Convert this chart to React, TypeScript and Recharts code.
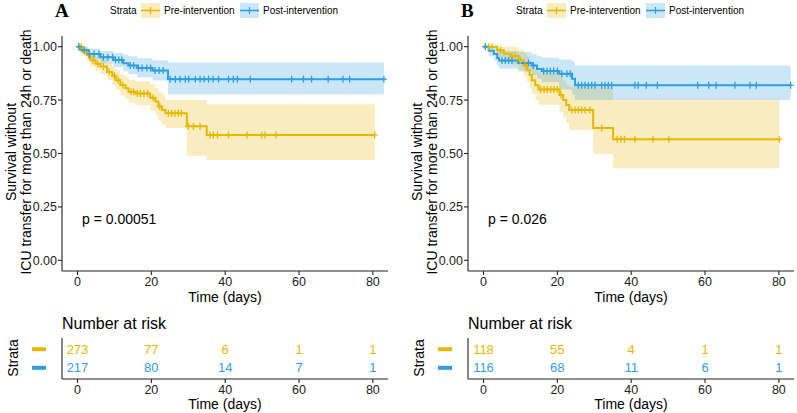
import React from "react"
import { ComposedChart, Area, Line, Scatter, XAxis, YAxis } from "recharts"

const YEL = "#E7B800"
const BLU = "#2E9FDF"
const FONT = '"Liberation Sans", Arial, sans-serif'

// ---- panel A: survival steps (time in days, survival, CI low, CI high)
const preA_t = [0, 1.3, 2.6, 3.5, 4.9, 6.2, 8, 9.4, 10.3, 11.6, 13, 13.8, 15.7, 19.7, 21.1, 21.9, 22.9, 23.8, 29.6, 35, 80.5]
const preA_s = [1, 0.978, 0.96, 0.936, 0.92, 0.907, 0.882, 0.864, 0.843, 0.82, 0.805, 0.789, 0.781, 0.761, 0.743, 0.72, 0.704, 0.688, 0.627, 0.587, 0.587]
const preA_lo = [1, 0.96, 0.937, 0.907, 0.888, 0.872, 0.843, 0.822, 0.798, 0.772, 0.755, 0.737, 0.727, 0.703, 0.682, 0.655, 0.636, 0.619, 0.49, 0.47, 0.47]
const preA_hi = [1, 0.996, 0.983, 0.966, 0.953, 0.943, 0.922, 0.908, 0.89, 0.871, 0.858, 0.845, 0.838, 0.823, 0.808, 0.79, 0.775, 0.75, 0.75, 0.73, 0.73]
const preA_c = [0.3, 1, 2, 3, 4.2, 5.5, 7, 8.6, 10, 11, 12.3, 14.5, 15.2, 16.2, 17, 18, 19, 20.5, 22.3, 24.6, 25.5, 26.4, 27.3, 28.1, 30, 31.4, 33.2, 35.9, 36.8, 37.9, 40.9, 45.9, 49.9, 50.8, 53.8, 80.5]

const postA_t = [0, 0.8, 3, 6.2, 9.7, 12.4, 13.8, 16.2, 20.3, 24.5, 83]
const postA_s = [1, 0.985, 0.966, 0.95, 0.938, 0.922, 0.912, 0.9, 0.888, 0.848, 0.848]
const postA_lo = [1, 0.969, 0.942, 0.921, 0.905, 0.885, 0.872, 0.857, 0.842, 0.777, 0.777]
const postA_hi = [1, 1, 0.99, 0.98, 0.972, 0.962, 0.955, 0.946, 0.937, 0.926, 0.926]
const postA_c = [0.4, 1.8, 3.2, 4.5, 5.8, 7, 8.2, 9.5, 10.3, 11.2, 12, 14.3, 15.2, 16.5, 17.5, 18.8, 19.8, 21, 22.1, 23.2, 25.1, 26.5, 27.8, 29.2, 30.1, 31.9, 33.2, 34.3, 35.5, 36.7, 38.2, 40.9, 42.2, 43.3, 46.8, 58, 61.2, 63.4, 67.9, 71.9, 73.7, 83]

// ---- panel B
const preB_t = [0, 3.7, 5.5, 7.3, 9.5, 10.9, 11.8, 12.5, 13.1, 14, 14.9, 20.6, 21.6, 22.4, 23.2, 29.7, 35.1, 80.1]
const preB_s = [1, 0.983, 0.967, 0.957, 0.936, 0.913, 0.89, 0.867, 0.843, 0.82, 0.8, 0.774, 0.75, 0.727, 0.704, 0.619, 0.567, 0.567]
const preB_lo = [1, 0.95, 0.93, 0.915, 0.89, 0.86, 0.835, 0.805, 0.78, 0.752, 0.728, 0.695, 0.67, 0.643, 0.61, 0.498, 0.431, 0.431]
const preB_hi = [1, 1, 1, 1, 0.985, 0.97, 0.955, 0.935, 0.915, 0.895, 0.88, 0.86, 0.84, 0.822, 0.812, 0.81, 0.752, 0.752]
const preB_c = [0.5, 1.4, 2.3, 4.6, 7.7, 8.6, 10, 11.3, 15.5, 16.4, 17.3, 18.2, 19.1, 20, 21, 23.9, 24.8, 25.7, 26.6, 27.5, 28.8, 32, 36.2, 37.2, 38.2, 41, 45.9, 50.2, 80.1]

const postB_t = [0, 1.4, 2.8, 3.7, 4.2, 9.4, 13.1, 14.5, 15.8, 20.5, 24, 24.8, 83.2]
const postB_s = [1, 0.981, 0.966, 0.947, 0.935, 0.924, 0.912, 0.896, 0.886, 0.873, 0.85, 0.819, 0.819]
const postB_lo = [1, 0.955, 0.935, 0.912, 0.897, 0.884, 0.868, 0.85, 0.834, 0.8, 0.775, 0.75, 0.75]
const postB_hi = [1, 1, 1, 0.99, 0.98, 0.975, 0.965, 0.955, 0.948, 0.94, 0.93, 0.912, 0.912]
const postB_c = [0.5, 5, 5.9, 6.8, 7.7, 12.2, 13.5, 16.3, 17.2, 18.1, 19, 20, 21.2, 22.6, 23.5, 25.7, 26.6, 27.5, 28.4, 29.3, 30.2, 32, 32.9, 33.8, 34.7, 41, 41.9, 44.1, 47.1, 58, 61, 63, 68.1, 72.2, 73.9, 83.2]

// ---- number at risk
const timeTicks = [0, 20, 40, 60, 80]
const riskPreA = [273, 77, 6, 1, 1]
const riskPostA = [217, 80, 14, 7, 1]
const riskPreB = [118, 55, 4, 1, 1]
const riskPostB = [116, 68, 11, 6, 1]

function steps(t: number[], s: number[], lo: number[], hi: number[]) {
  return t.map((x, i) => ({ t: x, s: s[i], band: [lo[i], hi[i]] }))
}

// censor marks sit on the curve at their time
function censors(ct: number[], t: number[], s: number[]) {
  return ct.map((c) => {
    let v = s[0]
    for (let i = 0; i < t.length; i++) if (t[i] <= c) v = s[i]
    return { t: c, s: v }
  })
}

function riskRows(n: number[], row: number) {
  return timeTicks.map((t, i) => ({ t, row, n: n[i] }))
}

const plus = (color: string) => (p: any) => (
  <g stroke={color} strokeWidth={1.3}>
    <line x1={p.cx} x2={p.cx} y1={p.cy - 3.5} y2={p.cy + 3.5} />
    <line x1={p.cx - 3} x2={p.cx + 3} y1={p.cy} y2={p.cy} />
  </g>
)

const riskText = (color: string) => (p: any) => (
  <text x={p.cx} y={p.cy} textAnchor="middle" dominantBaseline="central" fill={color} fontSize={13} fontFamily={FONT}>
    {p.payload.n}
  </text>
)

const RiskKey = (p: any) => (
  <rect x={p.x - 22} y={p.y - 2} width={14} height={4} fill={p.payload.value === 2 ? YEL : BLU} />
)

const tickStyle = { fontSize: 12.5, fill: "#222", fontFamily: FONT }
const axisLine = { stroke: "#222", strokeWidth: 1.1 }
const X_DOMAIN: [number, number] = [-4.2, 84.1]

function LegendKey({ x, color }: { x: number; color: string }) {
  return (
    <g>
      <rect x={x} y={3} width={19} height={15} fill={color} fillOpacity={0.25} />
      <line x1={x} x2={x + 19} y1={10.5} y2={10.5} stroke={color} strokeWidth={1.6} />
      <line x1={x + 9.5} x2={x + 9.5} y1={7} y2={14} stroke={color} strokeWidth={1.2} />
    </g>
  )
}

function Panel(props: {
  left: number
  tag: string
  pval: string
  pre: { t: number[]; s: number[]; lo: number[]; hi: number[]; c: number[] }
  post: { t: number[]; s: number[]; lo: number[]; hi: number[]; c: number[] }
  riskPre: number[]
  riskPost: number[]
}) {
  const { pre, post } = props
  const preSteps = steps(pre.t, pre.s, pre.lo, pre.hi)
  const postSteps = steps(post.t, post.s, post.lo, post.hi)
  return (
    <div style={{ position: "absolute", left: props.left, top: 0, width: 392, height: 413 }}>
      <div style={{ position: "absolute", top: 0, left: 0 }}>
        <ComposedChart width={392} height={300} margin={{ top: 36, right: 4, bottom: 5, left: 22 }}>
          <XAxis
            type="number"
            dataKey="t"
            domain={X_DOMAIN}
            ticks={timeTicks}
            allowDataOverflow
            height={24}
            tick={tickStyle}
            tickSize={4}
            tickMargin={2}
            axisLine={axisLine}
            tickLine={axisLine}
          />
          <YAxis
            type="number"
            dataKey="s"
            domain={[-0.05, 1.05]}
            ticks={[0, 0.25, 0.5, 0.75, 1]}
            allowDataOverflow
            width={40}
            tick={tickStyle}
            tickSize={4}
            tickMargin={1}
            tickFormatter={(v: number) => v.toFixed(2)}
            axisLine={axisLine}
            tickLine={axisLine}
          />
          <Area data={preSteps} dataKey="band" type="stepAfter" fill={YEL} fillOpacity={0.25} stroke="none" isAnimationActive={false} />
          <Area data={postSteps} dataKey="band" type="stepAfter" fill={BLU} fillOpacity={0.25} stroke="none" isAnimationActive={false} />
          <Line data={preSteps} dataKey="s" type="stepAfter" stroke={YEL} strokeWidth={2} dot={false} isAnimationActive={false} />
          <Line data={postSteps} dataKey="s" type="stepAfter" stroke={BLU} strokeWidth={2} dot={false} isAnimationActive={false} />
          <Scatter data={censors(pre.c, pre.t, pre.s)} dataKey="s" shape={plus(YEL)} isAnimationActive={false} />
          <Scatter data={censors(post.c, post.t, post.s)} dataKey="s" shape={plus(BLU)} isAnimationActive={false} />
        </ComposedChart>
      </div>
      <div style={{ position: "absolute", top: 330, left: 0 }}>
        <ComposedChart width={392} height={80} margin={{ top: 8, right: 4, bottom: 11, left: 22 }}>
          <XAxis
            type="number"
            dataKey="t"
            domain={X_DOMAIN}
            ticks={timeTicks}
            allowDataOverflow
            height={20}
            tick={tickStyle}
            tickSize={4}
            tickMargin={2}
            axisLine={axisLine}
            tickLine={axisLine}
          />
          <YAxis
            type="number"
            dataKey="row"
            domain={[0.4, 2.6]}
            ticks={[1, 2]}
            interval={0}
            width={40}
            tick={<RiskKey />}
            tickLine={false}
            axisLine={axisLine}
          />
          <Scatter data={riskRows(props.riskPre, 2)} shape={riskText(YEL)} isAnimationActive={false} />
          <Scatter data={riskRows(props.riskPost, 1)} shape={riskText(BLU)} isAnimationActive={false} />
        </ComposedChart>
      </div>
      <svg width={392} height={413} style={{ position: "absolute", top: 0, left: 0, pointerEvents: "none" }}>
        <text x={55} y={17} fontFamily='"Liberation Serif", serif' fontWeight="bold" fontSize={19} fill="#000">
          {props.tag}
        </text>
        <g fontFamily={FONT} fontSize={10} fill="#000">
          <text x={110} y={10.5} dominantBaseline="central">Strata</text>
          <LegendKey x={141} color={YEL} />
          <text x={164} y={10.5} dominantBaseline="central">Pre-intervention</text>
          <LegendKey x={240} color={BLU} />
          <text x={263} y={10.5} dominantBaseline="central">Post-intervention</text>
        </g>
        <g fontFamily={FONT} fontSize={14} fill="#000" textAnchor="middle" dominantBaseline="central">
          <text x={11} y={152} transform="rotate(-90 11 152)">Survival without</text>
          <text x={26} y={152} transform="rotate(-90 26 152)">ICU transfer for more than 24h or death</text>
          <text x={225} y={297}>Time (days)</text>
          <text x={13} y={358} transform="rotate(-90 13 358)">Strata</text>
          <text x={225} y={404}>Time (days)</text>
        </g>
        <text x={82} y={219} fontFamily={FONT} fontSize={14} fill="#000" dominantBaseline="central">
          {props.pval}
        </text>
        <text x={62} y={323} fontFamily={FONT} fontSize={16} fill="#000" dominantBaseline="central">
          Number at risk
        </text>
      </svg>
    </div>
  )
}

export default function App() {
  return (
    <div style={{ position: "absolute", left: 0, top: 0, width: 797, height: 413, overflow: "hidden", background: "#fff" }}>
      <Panel
        left={0}
        tag="A"
        pval="p = 0.00051"
        pre={{ t: preA_t, s: preA_s, lo: preA_lo, hi: preA_hi, c: preA_c }}
        post={{ t: postA_t, s: postA_s, lo: postA_lo, hi: postA_hi, c: postA_c }}
        riskPre={riskPreA}
        riskPost={riskPostA}
      />
      <Panel
        left={406}
        tag="B"
        pval="p = 0.026"
        pre={{ t: preB_t, s: preB_s, lo: preB_lo, hi: preB_hi, c: preB_c }}
        post={{ t: postB_t, s: postB_s, lo: postB_lo, hi: postB_hi, c: postB_c }}
        riskPre={riskPreB}
        riskPost={riskPostB}
      />
    </div>
  )
}
